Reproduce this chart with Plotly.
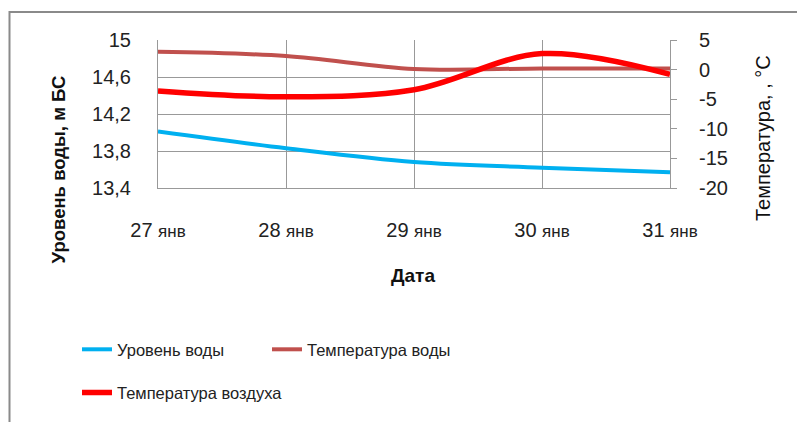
import plotly.graph_objects as go

# Daily observations, 27–31 January
dates = ["27", "28", "29", "30", "31"]
month = "янв"
water_level = [14.01, 13.83, 13.68, 13.62, 13.57]      # м БС
water_temp = [3.0, 2.3, 0.1, 0.2, 0.2]                 # °C
air_temp = [-3.6, -4.6, -3.4, 2.7, -0.8]               # °C

left_ticks = [13.4, 13.8, 14.2, 14.6, 15.0]
left_ticktext = ["13,4", "13,8", "14,2", "14,6", "15"]
right_ticks = [-20, -15, -10, -5, 0, 5]
right_ticktext = [str(v) for v in right_ticks]   # plain hyphen minus

x = list(range(len(dates)))
ticktext = [f"{d} <span style='font-size:17px'>{month}</span>" for d in dates]

FONT = "Liberation Sans"
GRID = "#999999"

# plot area in pixels
W, H = 797, 422
L, R, T, B = 158, 670, 40, 191


def px(xp):
    return (xp - L) / (R - L)


def py(yp):
    return (B - yp) / (B - T)


fig = go.Figure()
fig.add_trace(go.Scatter(
    x=x, y=water_level, name="Уровень воды", mode="lines",
    line=dict(color="#00B0F0", width=4, shape="spline", smoothing=1.0),
    yaxis="y", legend="legend"))
fig.add_trace(go.Scatter(
    x=x, y=water_temp, name="Температура воды", mode="lines",
    line=dict(color="#C0504D", width=4, shape="spline", smoothing=1.0),
    yaxis="y2", legend="legend2"))
fig.add_trace(go.Scatter(
    x=x, y=air_temp, name="Температура воздуха", mode="lines",
    line=dict(color="#FF0000", width=5.5, shape="spline", smoothing=1.0),
    yaxis="y2", legend="legend3"))

legend_style = dict(xanchor="left", yanchor="top", orientation="h",
                    font=dict(family=FONT, size=16.5, color="#222222"),
                    bgcolor="rgba(0,0,0,0)")

fig.update_layout(
    width=W, height=H,
    margin=dict(l=L, r=W - R, t=T, b=H - B, pad=0),
    paper_bgcolor="white", plot_bgcolor="white",
    font=dict(family=FONT, size=20, color="#222222"),
    xaxis=dict(
        range=[0, 4], tickmode="array", tickvals=x, ticktext=ticktext,
        showgrid=True, gridcolor=GRID, gridwidth=1,
        showline=True, linecolor=GRID, linewidth=1,
        ticks="outside", ticklen=24, tickcolor="rgba(0,0,0,0)",
        zeroline=False, fixedrange=True,
    ),
    yaxis=dict(
        range=[13.4, 15.0], tickmode="array", tickvals=left_ticks,
        ticktext=left_ticktext,
        showgrid=True, gridcolor=GRID, gridwidth=1,
        showline=True, linecolor=GRID, linewidth=1,
        ticks="outside", ticklen=22, tickcolor="rgba(0,0,0,0)",
        zeroline=False,
    ),
    yaxis2=dict(
        range=[-20, 5], tickmode="array", tickvals=right_ticks,
        ticktext=right_ticktext,
        overlaying="y", side="right", showgrid=False,
        showline=True, linecolor=GRID, linewidth=1,
        ticks="outside", ticklen=6, tickcolor=GRID,
        ticklabelstandoff=18, zeroline=False,
    ),
    legend=dict(x=px(77), y=py(338), **legend_style),
    legend2=dict(x=px(267), y=py(338), **legend_style),
    legend3=dict(x=px(77), y=py(382), **legend_style),
    showlegend=True,
)

# Axis titles
fig.add_annotation(text="<b>Уровень воды, м БС</b>", x=px(58), y=py(172),
                   xref="paper", yref="paper", textangle=-90, showarrow=False,
                   xanchor="center", yanchor="middle",
                   font=dict(family=FONT, size=18.5, color="#111111"))
fig.add_annotation(text="Температура, , °С", x=px(763), y=py(140),
                   xref="paper", yref="paper", textangle=-90, showarrow=False,
                   xanchor="center", yanchor="middle",
                   font=dict(family=FONT, size=20, color="#111111"))
fig.add_annotation(text="<b>Дата</b>", x=px(413), y=py(280),
                   xref="paper", yref="paper", showarrow=False,
                   xanchor="center", yanchor="middle",
                   font=dict(family=FONT, size=19, color="#111111"))

# Chart frame
fig.add_shape(type="rect", xref="paper", yref="paper",
              x0=px(9.5), y0=py(440), x1=px(820), y1=py(11.5),
              line=dict(color="#8a8a8a", width=2), fillcolor="rgba(0,0,0,0)",
              layer="below")

fig.write_html("out.html")
